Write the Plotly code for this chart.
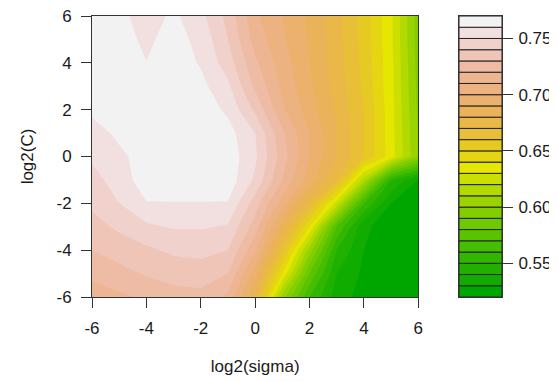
import colorsys
import plotly.graph_objects as go

# ---- data -------------------------------------------------------------
log2_sigma = [-6, -5, -4, -3, -2, -1, 0, 1, 2, 3, 4, 5, 6]
log2_C = [-6, -5, -4, -3, -2, -1, 0, 1, 2, 3, 4, 5, 6]

# accuracy for each log2(C) row, columns follow log2_sigma
acc_C_m6 = [0.714, 0.718, 0.722, 0.726, 0.727, 0.718, 0.680, 0.605, 0.560, 0.535, 0.526, 0.523, 0.522]
acc_C_m5 = [0.723, 0.727, 0.731, 0.734, 0.735, 0.730, 0.695, 0.640, 0.580, 0.540, 0.528, 0.523, 0.522]
acc_C_m4 = [0.730, 0.734, 0.738, 0.742, 0.743, 0.740, 0.712, 0.665, 0.605, 0.550, 0.530, 0.524, 0.522]
acc_C_m3 = [0.736, 0.742, 0.748, 0.751, 0.751, 0.749, 0.725, 0.685, 0.640, 0.570, 0.532, 0.525, 0.522]
acc_C_m2 = [0.742, 0.750, 0.7595, 0.7595, 0.7595, 0.7595, 0.735, 0.705, 0.672, 0.625, 0.560, 0.530, 0.525]
acc_C_m1 = [0.746, 0.755, 0.765, 0.767, 0.767, 0.766, 0.748, 0.720, 0.695, 0.670, 0.615, 0.550, 0.530]
acc_C_0 = [0.752, 0.758, 0.764, 0.767, 0.768, 0.766, 0.752, 0.725, 0.700, 0.680, 0.660, 0.635, 0.600]
acc_C_1 = [0.756, 0.762, 0.766, 0.768, 0.767, 0.764, 0.750, 0.722, 0.700, 0.680, 0.660, 0.634, 0.600]
acc_C_2 = [0.762, 0.766, 0.768, 0.768, 0.766, 0.758, 0.738, 0.712, 0.695, 0.678, 0.660, 0.634, 0.598]
acc_C_3 = [0.765, 0.766, 0.767, 0.766, 0.763, 0.752, 0.728, 0.708, 0.692, 0.676, 0.658, 0.633, 0.597]
acc_C_4 = [0.766, 0.766, 0.7602, 0.766, 0.759, 0.745, 0.722, 0.705, 0.690, 0.675, 0.657, 0.633, 0.596]
acc_C_5 = [0.765, 0.764, 0.758, 0.764, 0.757, 0.740, 0.716, 0.702, 0.689, 0.674, 0.656, 0.632, 0.595]
acc_C_6 = [0.765, 0.763, 0.755, 0.762, 0.753, 0.737, 0.712, 0.700, 0.688, 0.674, 0.656, 0.632, 0.595]

level_start = 0.52
level_end = 0.77
level_step = 0.01
key_ticks = [0.55, 0.60, 0.65, 0.70, 0.75]
key_labels = ["0.55", "0.60", "0.65", "0.70", "0.75"]
x_ticks = [-6, -4, -2, 0, 2, 4, 6]
x_labels = ["-6", "-4", "-2", "0", "2", "4", "6"]
y_ticks = [-6, -4, -2, 0, 2, 4, 6]
y_labels = ["-6", "-4", "-2", "0", "2", "4", "6"]

z = [acc_C_m6, acc_C_m5, acc_C_m4, acc_C_m3, acc_C_m2, acc_C_m1, acc_C_0,
     acc_C_1, acc_C_2, acc_C_3, acc_C_4, acc_C_5, acc_C_6]

# ---- R terrain.colors(n) ---------------------------------------------
n_bands = int(round((level_end - level_start) / level_step))


def terrain_colors(n):
    k = n // 2
    cols = []
    for i in range(k):
        t = i / (k - 1) if k > 1 else 0
        h = 4 / 12 + (2 / 12 - 4 / 12) * t
        s = 1.0
        v = 0.65 + (0.9 - 0.65) * t
        cols.append(colorsys.hsv_to_rgb(h, s, v))
    m = n - k
    for j in range(1, m + 1):
        t = j / m
        h = 2 / 12 * (1 - t)
        s = 1 - t
        v = 0.9 + 0.05 * t
        cols.append(colorsys.hsv_to_rgb(h, s, v))
    return ["rgb(%d,%d,%d)" % tuple(int(round(c * 255)) for c in rgb) for rgb in cols]


colors = terrain_colors(n_bands)
band_lows = [level_start + i * level_step for i in range(n_bands)]

# colour scale: band i centre maps to i/(n-1)
cscale = [[i / (n_bands - 1), colors[i]] for i in range(n_bands)]

font_family = "Liberation Sans, Arial, sans-serif"
txt = "#1a1a1a"

fig = go.Figure()

fig.add_trace(go.Contour(
    x=log2_sigma, y=log2_C, z=z,
    colorscale=cscale,
    autocontour=False,
    contours=dict(start=level_start + level_step, end=level_end - level_step,
                  size=level_step, coloring="fill", showlines=False),
    line=dict(width=0, smoothing=0),
    showscale=False,
    hoverinfo="x+y+z",
))

fig.add_trace(go.Bar(
    x=[0.5] * n_bands, y=[level_step] * n_bands, base=band_lows, width=1,
    marker=dict(color=colors, line=dict(color="#222", width=1)),
    xaxis="x2", yaxis="y2", showlegend=False, hoverinfo="skip",
))

axis_common = dict(
    showline=True, linecolor="#333", linewidth=1, mirror=True,
    ticks="outside", ticklen=10, tickcolor="#333", tickwidth=1,
    showgrid=False, zeroline=False, ticklabeloverflow="allow",
    tickfont=dict(family=font_family, size=17, color=txt),
)

# page body adds an 8px offset, so the figure is 8px smaller and margins shifted
fig.update_layout(
    width=549, height=373,
    margin=dict(l=84, r=55, t=8, b=84, autoexpand=False),
    paper_bgcolor="white", plot_bgcolor="white",
    barmode="overlay",
    showlegend=False,
    font=dict(family=font_family, size=17, color=txt),
    xaxis=dict(domain=[0, 0.7959], range=[-6, 6], tickvals=x_ticks, ticktext=x_labels,
               title=dict(text="log2(sigma)", standoff=22,
                          font=dict(family=font_family, size=17, color=txt)),
               ticklabelstandoff=6,
               **axis_common),
    yaxis=dict(domain=[0, 1], range=[-6, 6], tickvals=y_ticks, ticktext=y_labels,
               title=dict(text="log2(C)", standoff=18,
                          font=dict(family=font_family, size=17, color=txt)),
               ticklabelstandoff=6,
               **axis_common),
    xaxis2=dict(domain=[0.8951, 1], range=[0, 1], anchor="y2",
                showline=True, linecolor="#333", linewidth=1, mirror=True,
                showticklabels=False, ticks="", showgrid=False, zeroline=False),
    yaxis2=dict(domain=[0, 1], range=[level_start, level_end], anchor="x2", side="right",
                tickvals=key_ticks, ticktext=key_labels, ticklabelstandoff=2,
                **axis_common),
)

fig.write_html("out.html")
